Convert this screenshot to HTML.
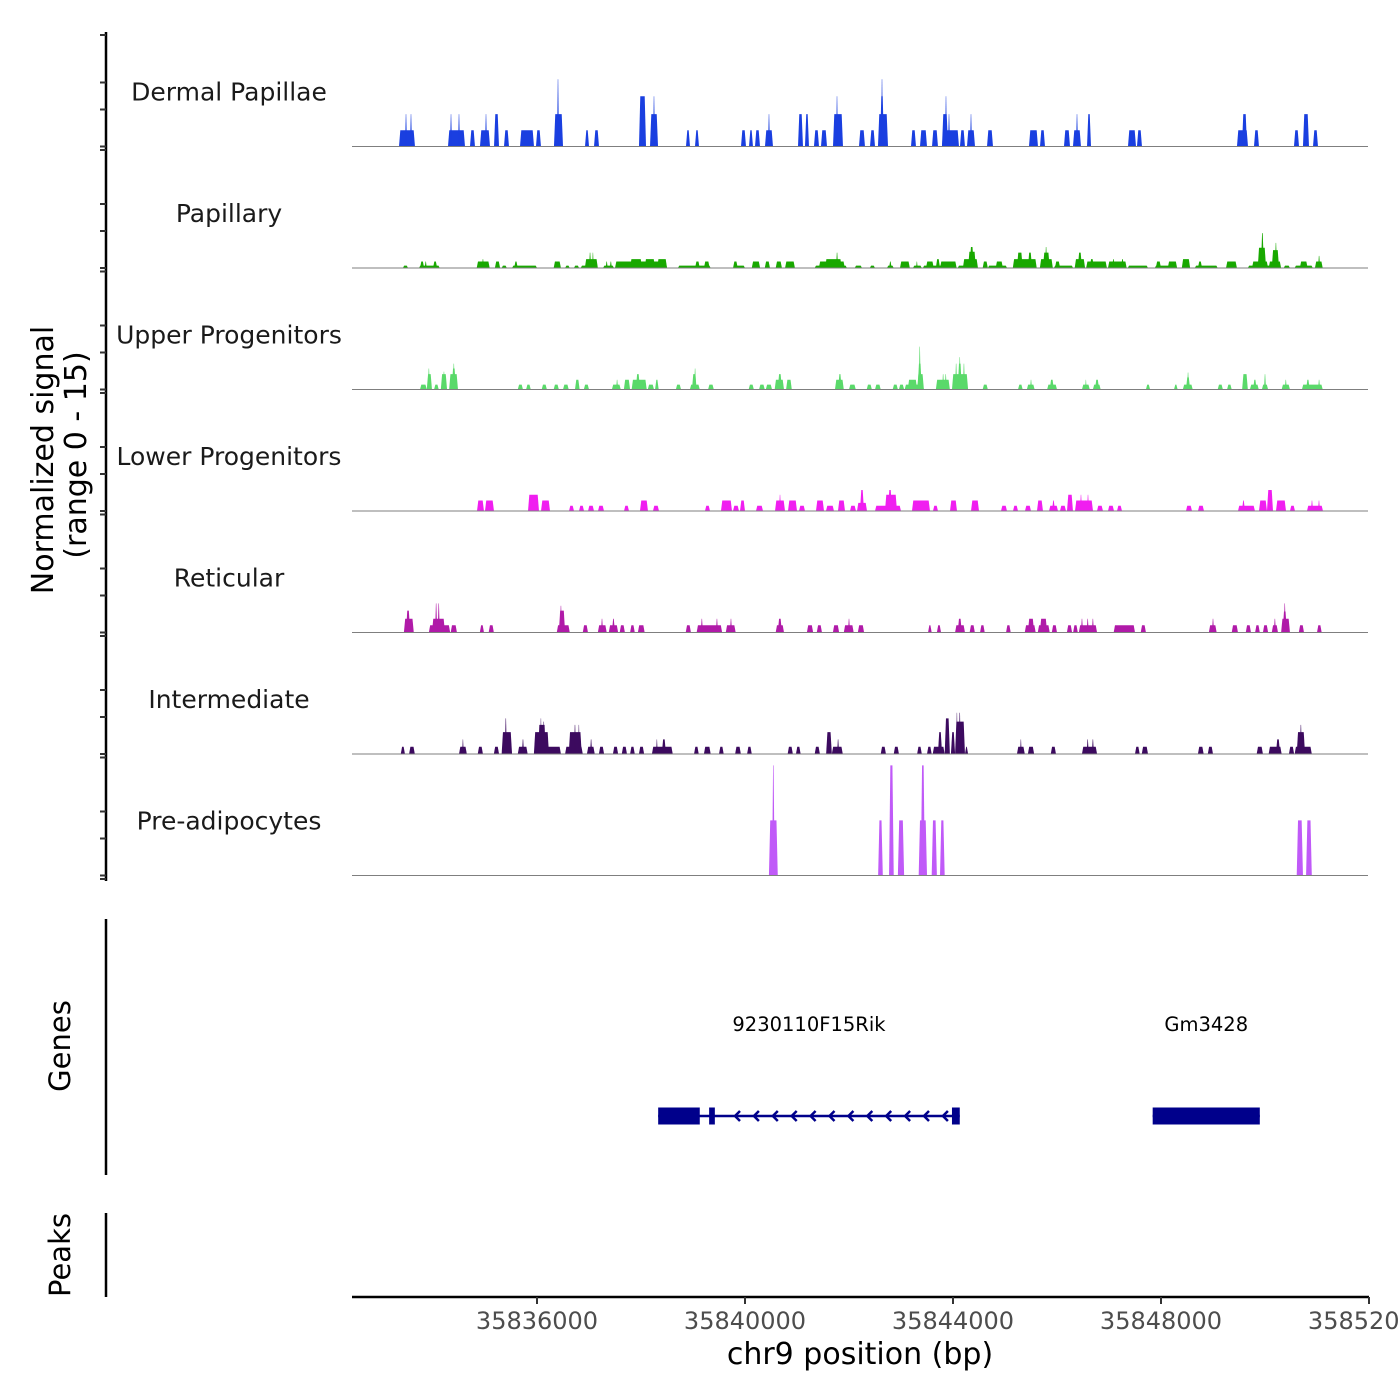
<!DOCTYPE html>
<html><head><meta charset="utf-8"><style>
html,body{margin:0;padding:0;background:#fff;}
svg{display:block;font-family:"DejaVu Sans","Liberation Sans",sans-serif;}
</style></head><body>
<svg id="chart" width="1400" height="1400" viewBox="0 0 1400 1400" xmlns="http://www.w3.org/2000/svg">
<g id="axes"></g>
<g id="tracks"></g>
<g id="genes"></g>
<text transform="translate(53,460) rotate(-90)" text-anchor="middle" font-size="30" fill="#000">Normalized signal</text>
<text transform="translate(86,455) rotate(-90)" text-anchor="middle" font-size="30" fill="#000">(range 0 - 15)</text>
<text transform="translate(70,1046) rotate(-90)" text-anchor="middle" font-size="29" fill="#000">Genes</text>
<text transform="translate(70,1255) rotate(-90)" text-anchor="middle" font-size="29" fill="#000">Peaks</text>
<text x="860" y="1364" text-anchor="middle" font-size="30" fill="#000">chr9 position (bp)</text>
</svg>
<script>
const regionStart = 35832442;
const regionEnd = 35852000;
const xTicks = [35836000, 35840000, 35844000, 35848000, 35852000];
const yRangeMax = 15;
const trackNames = ["Dermal Papillae","Papillary","Upper Progenitors","Lower Progenitors","Reticular","Intermediate","Pre-adipocytes"];
const trackColors = ["#1a3fe0","#18a800","#5ad96a","#f01ef0","#b01aa8","#3c0a5f","#c05af8"];

const dermalPapillae = [[35833346,35833653,2],[35833461,35833500,4],[35833557,35833596,4],[35834288,35834615,2],[35834327,35834365,4],[35834480,35834519,4],[35834711,35834807,2],[35834903,35835096,2],[35835000,35835038,4],[35835173,35835269,4],[35835365,35835461,2],[35835673,35835942,2],[35835980,35836076,2],[35836326,35836500,4],[35836384,35836423,8.3],[35836923,35837000,2],[35837096,35837192,2],[35837961,35838096,6.2],[35838173,35838327,4],[35838230,35838269,6.2],[35838865,35838942,2],[35839038,35839115,2],[35839923,35840019,2],[35840077,35840153,2],[35840192,35840288,2],[35840384,35840538,2],[35840442,35840480,4],[35841019,35841115,4],[35841153,35841230,4],[35841326,35841423,2],[35841461,35841577,2],[35841692,35841884,4],[35841750,35841788,6.2],[35842192,35842307,2],[35842404,35842500,2],[35842557,35842750,4],[35842596,35842673,6.2],[35842615,35842654,8.3],[35843192,35843288,2],[35843365,35843500,2],[35843596,35843711,2],[35843788,35844115,2],[35843788,35843904,4],[35843846,35843884,6.2],[35843904,35843942,4],[35844134,35844230,2],[35844269,35844423,2],[35844327,35844365,4],[35844654,35844769,2],[35845461,35845634,2],[35845673,35845769,2],[35846134,35846250,2],[35846307,35846461,2],[35846365,35846404,4],[35846577,35846654,4],[35847365,35847519,2],[35847538,35847634,2],[35849461,35849673,2],[35849557,35849654,4],[35849788,35849884,2],[35850557,35850654,2],[35850730,35850846,4],[35850923,35851019,2]];

const papillary = [[35833420,35833520,.3],[35833730,35834130,.3],[35833750,35833830,.8],[35833840,35833880,.8],[35834000,35834080,.8],[35834840,35835090,.8],[35834940,35834980,1.1],[35835190,35835290,.8],[35835320,35835420,.3],[35835520,35836000,.3],[35835560,35835630,.8],[35836320,35836460,.8],[35836540,35836630,.3],[35836710,35836810,.3],[35836840,35837170,.3],[35836920,35837170,1.1],[35837000,35837040,1.9],[35837060,35837090,1.9],[35837270,35837480,.3],[35837320,35837360,.8],[35837400,35837440,.8],[35837500,35838500,.8],[35837790,35838020,1.1],[35838070,35838270,1.1],[35838310,35838500,1.1],[35838710,35839340,.3],[35839040,35839130,.8],[35839210,35839320,.8],[35839770,35840000,.3],[35839770,35839860,.8],[35840130,35840290,.8],[35840380,35840480,.8],[35840590,35840710,.8],[35840770,35840960,.8],[35841340,35841960,.3],[35841420,35841920,.8],[35841540,35841860,1.1],[35841750,35841790,1.9],[35842110,35842250,.3],[35842400,35842500,.3],[35842730,35842860,.3],[35842770,35842820,.8],[35842980,35843170,.8],[35843230,35843400,.3],[35843290,35843320,.8],[35843420,35844070,.3],[35843480,35843630,.8],[35843670,35843750,1.1],[35843750,35844070,.8],[35844090,35844480,.3],[35844190,35844480,1.1],[35844290,35844440,2.0],[35844320,35844400,2.6],[35844570,35844670,.8],[35844670,35845040,.3],[35844820,35844960,.8],[35845150,35845610,1.1],[35845230,35845340,1.9],[35845440,35845520,1.9],[35845670,35845920,1.1],[35845730,35845860,1.9],[35845770,35845810,2.6],[35845940,35846310,.3],[35845960,35846060,.8],[35846340,35846540,1.1],[35846400,35846480,1.9],[35846560,35846960,.8],[35846630,35846710,1.1],[35846980,35847340,.8],[35847060,35847110,1.1],[35847230,35847290,1.1],[35847360,35847750,.3],[35847880,35848310,.3],[35847900,35848000,.8],[35848130,35848310,.8],[35848400,35848560,1.1],[35848650,35849090,.3],[35848710,35848790,.8],[35849250,35849460,.8],[35849670,35850310,.3],[35849750,35850060,.8],[35849860,35850020,2.5],[35849920,35849980,4.3],[35850070,35850310,.8],[35850130,35850270,2.2],[35850190,35850230,3.1],[35850360,35850480,.3],[35850570,35850920,.3],[35850670,35850820,.8],[35850960,35851110,.8],[35851020,35851060,1.5]];

const upperProgenitors = [[35833750,35833880,.6],[35833880,35833980,1.9],[35833900,35833940,2.6],[35834020,35834110,.6],[35834150,35834270,1.9],[35834190,35834230,2.2],[35834310,35834480,1.9],[35834360,35834440,2.6],[35834380,35834420,3.2],[35835630,35835730,.6],[35835790,35835880,.6],[35836090,35836190,.6],[35836320,35836420,.6],[35836500,35836610,.6],[35836730,35836820,1.2],[35836900,35837000,.6],[35837440,35837610,.6],[35837520,35837560,1.2],[35837670,35837790,1.2],[35837820,35838110,1.2],[35837900,35837980,1.9],[35838130,35838250,.6],[35838270,35838340,1.2],[35838670,35838770,.6],[35838940,35839130,.6],[35838980,35839070,1.9],[35839020,35839060,2.6],[35839290,35839400,.6],[35840070,35840170,.6],[35840270,35840380,.6],[35840400,35840520,.6],[35840570,35840750,1.2],[35840630,35840710,1.9],[35840790,35840900,1.2],[35841730,35841900,1.2],[35841790,35841860,1.9],[35842000,35842130,.6],[35842340,35842440,.6],[35842500,35842610,.6],[35842840,35842940,.6],[35842960,35843060,.6],[35843070,35843440,.6],[35843130,35843310,1.2],[35843310,35843440,1.9],[35843320,35843400,3.2],[35843340,35843380,5.3],[35843670,35843940,1.2],[35843790,35843830,1.9],[35843840,35843880,1.9],[35843980,35844290,1.9],[35844040,35844080,3.2],[35844090,35844170,3.2],[35844110,35844150,4.0],[35844190,35844230,3.2],[35844570,35844670,.6],[35845250,35845340,.6],[35845420,35845570,.6],[35845480,35845520,1.2],[35845810,35846000,.6],[35845860,35845940,1.2],[35846480,35846630,.6],[35846540,35846570,1.2],[35846690,35846840,.6],[35846730,35846810,1.2],[35847710,35847790,.6],[35848250,35848320,.6],[35848420,35848610,.6],[35848480,35848560,1.5],[35848500,35848540,2.1],[35849090,35849190,.6],[35849270,35849360,.6],[35849560,35849670,1.9],[35849710,35849880,.6],[35849770,35849840,1.2],[35849940,35850060,.6],[35849980,35850020,1.9],[35850320,35850480,.6],[35850380,35850420,1.2],[35850710,35851110,.6],[35850790,35850860,1.2],[35851020,35851060,1.2]];

const lowerProgenitors = [[35834846,35834980,1.3],[35834999,35835172,1.3],[35835827,35836038,2],[35836077,35836250,1.3],[35836615,35836711,.65],[35836807,35836904,.65],[35836981,35837096,.65],[35837173,35837288,.65],[35837673,35837769,.65],[35837980,35838134,1.3],[35838230,35838346,.65],[35839230,35839327,.65],[35839538,35839750,1.3],[35839769,35839884,.65],[35839904,35840000,1.3],[35840211,35840346,.65],[35840577,35840769,1.3],[35840654,35840692,2],[35840827,35841000,1.3],[35841038,35841154,.65],[35841365,35841519,1.3],[35841557,35841711,.65],[35841788,35841923,1.3],[35842019,35842134,.65],[35842154,35842346,1.0],[35842211,35842288,2.6],[35842500,35843000,.65],[35842692,35842923,2],[35842750,35842827,2.6],[35843211,35843557,1.3],[35843615,35843711,.65],[35843942,35844077,1.3],[35844346,35844500,1.3],[35844923,35845038,.65],[35845154,35845250,.65],[35845384,35845500,.65],[35845615,35845730,1.3],[35845846,35846019,.65],[35845904,35845961,1.3],[35846057,35846173,.65],[35846192,35846307,2],[35846346,35846692,1.3],[35846442,35846480,2],[35846577,35846615,2],[35846769,35846884,.65],[35846980,35847096,.65],[35847154,35847250,.65],[35848480,35848596,.65],[35848711,35848827,.65],[35849480,35849807,.65],[35849557,35849615,1.3],[35849884,35850038,1.3],[35850038,35850154,2.6],[35850211,35850404,1.3],[35850480,35850577,.65],[35850807,35851115,.65],[35850884,35850923,1.3],[35851019,35851057,1.3]];

const reticular = [[35833440,35833630,1.7],[35833480,35833560,2.7],[35833920,35834330,.9],[35833980,35834230,1.7],[35834040,35834080,3.6],[35834090,35834130,3.6],[35834340,35834460,.9],[35834900,35834980,.9],[35835070,35835170,.9],[35836380,35836630,.9],[35836420,35836540,2.7],[35836440,35836480,3.3],[35836880,35836980,.9],[35837170,35837340,.9],[35837230,35837270,1.7],[35837380,35837560,.9],[35837440,35837500,1.7],[35837590,35837690,.9],[35837790,35837880,.9],[35837940,35838070,.9],[35838860,35838960,.9],[35839070,35839560,.9],[35839150,35839190,1.7],[35839440,35839480,1.7],[35839630,35839820,.9],[35839710,35839750,1.7],[35840590,35840750,.9],[35840630,35840710,1.7],[35841190,35841310,.9],[35841380,35841480,.9],[35841690,35841810,.9],[35841900,35842090,.9],[35841980,35842020,1.7],[35842170,35842290,.9],[35843520,35843590,.9],[35843690,35843770,.9],[35844040,35844230,.9],[35844090,35844170,1.7],[35844320,35844420,.9],[35844520,35844610,.9],[35845020,35845110,.9],[35845380,35845590,.9],[35845440,35845560,1.7],[35845630,35845860,.9],[35845670,35845810,1.7],[35845900,35846000,.9],[35846190,35846290,.9],[35846310,35846400,.9],[35846420,35846770,.9],[35846460,35846500,1.7],[35846570,35846610,1.7],[35846670,35846710,1.7],[35847090,35847500,.9],[35847610,35847710,.9],[35848920,35849070,.9],[35848980,35849020,1.7],[35849360,35849480,.9],[35849630,35849730,.9],[35849810,35849900,.9],[35849960,35850060,.9],[35850130,35850250,.9],[35850170,35850210,1.7],[35850310,35850480,1.7],[35850340,35850420,2.6],[35850360,35850400,3.6],[35850650,35850750,.9],[35851000,35851090,.9]];

const intermediate = [[35833380,35833460,.9],[35833540,35833650,.9],[35834500,35834650,.9],[35834560,35834590,1.8],[35834860,35834960,.9],[35835170,35835270,.9],[35835320,35835520,2.7],[35835380,35835420,4.4],[35835630,35835820,.9],[35835710,35835750,1.8],[35835940,35836460,.9],[35835940,35836230,2.7],[35836020,35836170,3.6],[35836060,35836090,4.4],[35836110,35836150,4.0],[35836540,35836880,.9],[35836610,35836860,2.7],[35836710,35836750,3.6],[35836790,35836820,3.6],[35836960,35837110,.9],[35837020,35837060,1.8],[35837190,35837290,.9],[35837460,35837560,.9],[35837630,35837730,.9],[35837790,35837880,.9],[35837960,35838060,.9],[35838210,35838610,.9],[35838290,35838320,1.8],[35838400,35838480,1.8],[35839020,35839110,.9],[35839210,35839340,.9],[35839500,35839590,.9],[35839810,35839920,.9],[35840040,35840130,.9],[35840820,35840920,.9],[35840980,35841070,.9],[35841340,35841440,.9],[35841560,35841670,2.7],[35841670,35841880,.9],[35841770,35841810,1.8],[35842610,35842710,.9],[35842860,35842960,.9],[35843310,35843400,.9],[35843500,35843590,.9],[35843610,35843840,.9],[35843710,35843790,2.7],[35843840,35843940,4.4],[35843960,35844040,2.7],[35844040,35844230,4.0],[35844060,35844090,5.1],[35844110,35844150,5.1],[35844230,35844290,.9],[35845230,35845380,.9],[35845290,35845320,1.8],[35845440,35845560,.9],[35845880,35845980,.9],[35846480,35846770,.9],[35846570,35846610,1.8],[35846670,35846710,1.8],[35847500,35847590,.9],[35847630,35847750,.9],[35848710,35848820,.9],[35848900,35849000,.9],[35849840,35849960,.9],[35850070,35850320,.9],[35850210,35850290,1.8],[35850460,35850560,.9],[35850570,35850900,.9],[35850610,35850770,2.7],[35850670,35850710,3.6]];

const preAdipocytes = [[35840460,35840630,6.8],[35840520,35840570,13.6],[35842560,35842650,6.8],[35842770,35842860,13.6],[35842940,35843060,6.8],[35843340,35843500,6.8],[35843380,35843460,13.6],[35843590,35843690,6.8],[35843750,35843840,6.8],[35850610,35850730,6.8],[35850790,35850900,6.8]];

const trackData = [dermalPapillae, papillary, upperProgenitors, lowerProgenitors, reticular, intermediate, preAdipocytes];

const geneNames = ["9230110F15Rik","Gm3428"];
const geneStarts = [35838330, 35847840];
const geneEnds = [35844130, 35849900];
const geneExons = [[[35838330,35839130],[35839310,35839420],[35843980,35844130]],[[35847840,35849900]]];

const NS = "http://www.w3.org/2000/svg";
const X0 = 352, X1 = 1369;
function xScale(bp){ return X0 + (bp - regionStart) * (X1 - X0) / (regionEnd - regionStart); }
const trackTop = 25, trackH = 121.5;
function baseline(i){ return trackTop + trackH * (i + 1); }
function yScale(v, i){ return baseline(i) - v / yRangeMax * trackH; }
function mk(tag, attrs, parent){ const e = document.createElementNS(NS, tag); for (const k in attrs) e.setAttribute(k, attrs[k]); parent.appendChild(e); return e; }

const axes = document.getElementById('axes');
const tracksG = document.getElementById('tracks');
const genesG = document.getElementById('genes');

let ln = mk('line', {x1:106, y1:32, x2:106, y2:881, stroke:'#000', 'stroke-width':2.5}, axes);


ln = mk('line', {x1:106, y1:919, x2:106, y2:1175, stroke:'#000', 'stroke-width':2.5}, axes);


ln = mk('line', {x1:106, y1:1213, x2:106, y2:1297, stroke:'#000', 'stroke-width':2.5}, axes);



for (let i = 0; i < trackNames.length; i++) {
  const b = baseline(i);
  const tks = [b, b - 37, b - 64, b + 3.5];
  if (i === 0) tks.push(35);
  tks.forEach(function(ty){
    const t = mk('line', {x1:100, y1:ty, x2:106, y2:ty, stroke:'#333', 'stroke-width':2}, axes);
    
    
  });
  const g = mk('g', {}, tracksG);
  
  
  const lab = mk('text', {x:229, y:b - 46, 'text-anchor':'middle', 'font-size':25, fill:'#1a1a1a'}, g);
  lab.textContent = trackNames[i];
  
  
  trackData[i].forEach(function(seg){
    const xs = xScale(seg[0]), xe = xScale(seg[1]);
    const w = xe - xs;
    const ins = Math.min(1.3, w * 0.4);
    const yt = yScale(seg[2], i);
    const p = mk('polygon', {points: xs + ',' + b + ' ' + (xs + ins) + ',' + yt + ' ' + (xe - ins) + ',' + yt + ' ' + xe + ',' + b, fill: trackColors[i]}, g);
    
    
  });
  const bl = mk('line', {x1:352, y1:b, x2:1368, y2:b, stroke:'#7f7f7f', 'stroke-width':1}, g);
  
  
}

const gy = 1116;
for (let gi = 0; gi < geneNames.length; gi++) {
  const g = mk('g', {}, genesG);
  
  
  const xs = xScale(geneStarts[gi]), xe = xScale(geneEnds[gi]);
  const l = mk('line', {x1:xs, y1:gy, x2:xe, y2:gy, stroke:'#00008b', 'stroke-width':2.5}, g);
  
  
  geneExons[gi].forEach(function(ex){
    const r = mk('rect', {x:xScale(ex[0]), y:gy - 8.5, width:xScale(ex[1]) - xScale(ex[0]), height:17, fill:'#00008b'}, g);
    
    
  });
  if (gi === 0) {
    for (let ax = 735; ax < 945; ax += 18.9) {
      const a = mk('polyline', {points:(ax + 5) + ',' + (gy - 5) + ' ' + ax + ',' + gy + ' ' + (ax + 5) + ',' + (gy + 5), fill:'none', stroke:'#00008b', 'stroke-width':2.5}, g);
      
      
    }
  }
  const t = mk('text', {x:(xs + xe) / 2, y:1031, 'text-anchor':'middle', 'font-size':19.5, fill:'#000'}, g);
  t.textContent = geneNames[gi];
  
  
}

ln = mk('line', {x1:352, y1:1297, x2:1369, y2:1297, stroke:'#000', 'stroke-width':2.5}, axes);


xTicks.forEach(function(v){
  const x = xScale(v);
  const t = mk('line', {x1:x, y1:1297, x2:x, y2:1304, stroke:'#333', 'stroke-width':2}, axes);
  
  
  const lab = mk('text', {x:x, y:1329, 'text-anchor':'middle', 'font-size':24, fill:'#4d4d4d'}, axes);
  lab.textContent = String(v);
  
  
});
</script>
</body></html>
